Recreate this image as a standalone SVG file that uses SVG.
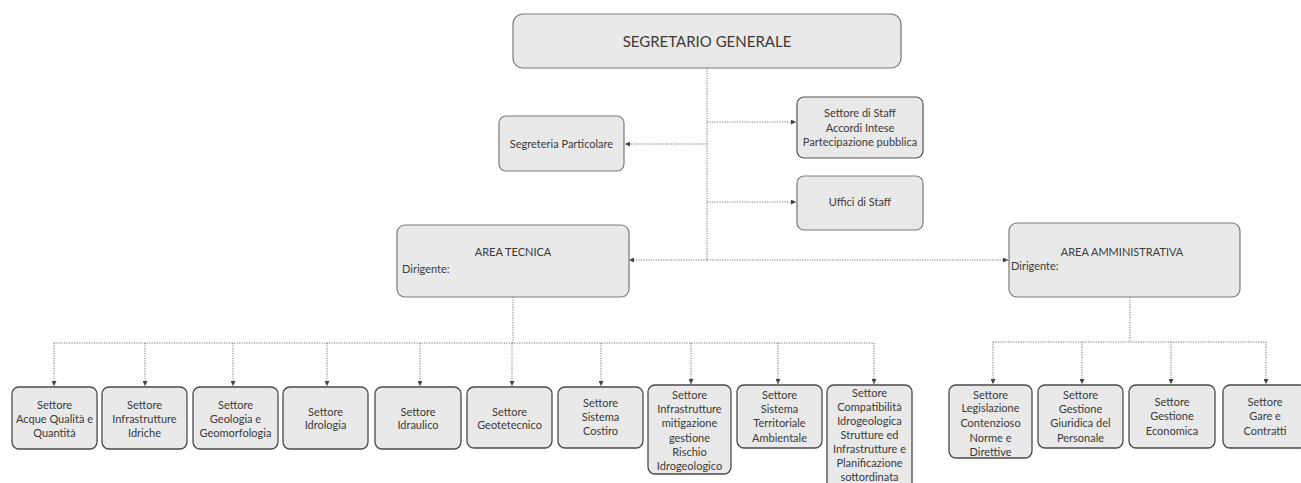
<svg xmlns="http://www.w3.org/2000/svg" width="1301" height="483" viewBox="0 0 1301 483">
<style>
text{font-family:Lato,"Liberation Sans",sans-serif;fill:#3a3a3a;font-size:11px}
.c{text-anchor:middle}
.box{fill:#e9e9e9;stroke:#7a7a7a;stroke-width:1.2}
.sb{fill:#e9e9e9;stroke:#4a4a4a;stroke-width:1.3}
.ln{fill:none;stroke:#777;stroke-width:1;stroke-dasharray:1.2 1.3}
</style>
<defs>
<marker id="ah" viewBox="0 0 6 6" refX="6" refY="3" markerWidth="5" markerHeight="5" orient="auto" markerUnits="userSpaceOnUse">
<path d="M0,0 L6,3 L0,6 Z" fill="#444"/>
</marker>
</defs>
<rect width="1301" height="483" fill="#fff"/>

<g id="connectors">
<path class="ln" d="M707,68 V260"/>
<path class="ln" d="M707,260 H629" marker-end="url(#ah)"/>
<path class="ln" d="M707,260 H1008" marker-end="url(#ah)"/>
<path class="ln" d="M707,122 H796" marker-end="url(#ah)"/>
<path class="ln" d="M707,202 H796" marker-end="url(#ah)"/>
<path class="ln" d="M707,144 H625" marker-end="url(#ah)"/>
<path class="ln" d="M513,297 V343 M54,343 H874"/>
<path class="ln" d="M54,343 V386" marker-end="url(#ah)"/>
<path class="ln" d="M145,343 V386" marker-end="url(#ah)"/>
<path class="ln" d="M233,343 V386" marker-end="url(#ah)"/>
<path class="ln" d="M327,343 V386" marker-end="url(#ah)"/>
<path class="ln" d="M420,343 V386" marker-end="url(#ah)"/>
<path class="ln" d="M512,343 V386" marker-end="url(#ah)"/>
<path class="ln" d="M601,343 V386" marker-end="url(#ah)"/>
<path class="ln" d="M691,343 V384" marker-end="url(#ah)"/>
<path class="ln" d="M778,343 V384" marker-end="url(#ah)"/>
<path class="ln" d="M874,343 V384" marker-end="url(#ah)"/>
<path class="ln" d="M1130,297 V342 M993,342 H1266"/>
<path class="ln" d="M993,342 V384" marker-end="url(#ah)"/>
<path class="ln" d="M1082,342 V384" marker-end="url(#ah)"/>
<path class="ln" d="M1171,342 V384" marker-end="url(#ah)"/>
<path class="ln" d="M1266,342 V384" marker-end="url(#ah)"/>
</g>

<g id="segretario">
<rect class="box" x="513" y="14" width="388" height="54" rx="10"/>
<text class="c" x="707" y="47" style="font-size:15px">SEGRETARIO GENERALE</text>
</g>
<g id="segreteria">
<rect class="box" x="499" y="116" width="125" height="55" rx="7"/>
<text class="c" x="561.5" y="148">Segreteria Particolare</text>
</g>
<g id="settore-staff">
<rect class="box" x="797" y="97" width="126" height="61" rx="7" style="stroke:#555"/>
<text class="c" x="860" y="117">Settore di Staff</text>
<text class="c" x="860" y="132">Accordi Intese</text>
<text class="c" x="860" y="146">Partecipazione pubblica</text>
</g>
<g id="uffici-staff">
<rect class="box" x="797" y="176" width="126" height="54" rx="7"/>
<text class="c" x="860" y="206">Uffici di Staff</text>
</g>
<g id="area-tecnica">
<rect class="box" x="397" y="225" width="232" height="72" rx="8"/>
<text class="c" x="513" y="256">AREA TECNICA</text>
<text x="402" y="273">Dirigente:</text>
</g>
<g id="area-amministrativa">
<rect class="box" x="1009" y="223" width="231" height="74" rx="8"/>
<text class="c" x="1122" y="256">AREA AMMINISTRATIVA</text>
<text x="1011" y="270">Dirigente:</text>
</g>

<g id="s1">
<rect class="sb" x="12" y="387" width="85" height="62" rx="7"/>
<text class="c" x="54.5" y="409">Settore</text>
<text class="c" x="54.5" y="423">Acque Qualità e</text>
<text class="c" x="54.5" y="437">Quantità</text>
</g>
<g id="s2">
<rect class="sb" x="102" y="387" width="85" height="62" rx="7"/>
<text class="c" x="144.5" y="409">Settore</text>
<text class="c" x="144.5" y="423">Infrastrutture</text>
<text class="c" x="144.5" y="437">Idriche</text>
</g>
<g id="s3">
<rect class="sb" x="193" y="387" width="85" height="62" rx="7"/>
<text class="c" x="235.5" y="409">Settore</text>
<text class="c" x="235.5" y="423">Geologia e</text>
<text class="c" x="235.5" y="437">Geomorfologia</text>
</g>
<g id="s4">
<rect class="sb" x="283" y="387" width="85" height="62" rx="7"/>
<text class="c" x="325.5" y="416">Settore</text>
<text class="c" x="325.5" y="429">Idrologia</text>
</g>
<g id="s5">
<rect class="sb" x="375" y="387" width="86" height="62" rx="7"/>
<text class="c" x="418" y="416">Settore</text>
<text class="c" x="418" y="429">Idraulico</text>
</g>
<g id="s6">
<rect class="sb" x="467" y="387" width="85" height="61" rx="7"/>
<text class="c" x="509.5" y="416">Settore</text>
<text class="c" x="509.5" y="429">Geotetecnico</text>
</g>
<g id="s7">
<rect class="sb" x="558" y="387" width="85" height="61" rx="7"/>
<text class="c" x="600.5" y="407">Settore</text>
<text class="c" x="600.5" y="421">Sistema</text>
<text class="c" x="600.5" y="435">Costiro</text>
</g>
<g id="s8">
<rect class="sb" x="648" y="385" width="83" height="89" rx="7"/>
<text class="c" x="689.5" y="399">Settore</text>
<text class="c" x="689.5" y="413">Infrastrutture</text>
<text class="c" x="689.5" y="427">mitigazione</text>
<text class="c" x="689.5" y="442">gestione</text>
<text class="c" x="689.5" y="456">Rischio</text>
<text class="c" x="689.5" y="470">Idrogeologico</text>
</g>
<g id="s9">
<rect class="sb" x="737" y="385" width="85" height="63" rx="7"/>
<text class="c" x="779.5" y="399">Settore</text>
<text class="c" x="779.5" y="413">Sistema</text>
<text class="c" x="779.5" y="427">Territoriale</text>
<text class="c" x="779.5" y="442">Ambientale</text>
</g>
<g id="s10">
<rect class="sb" x="827" y="385" width="85" height="105" rx="7"/>
<text class="c" x="869.5" y="397">Settore</text>
<text class="c" x="869.5" y="411">Compatibilità</text>
<text class="c" x="869.5" y="425">Idrogeologica</text>
<text class="c" x="869.5" y="439">Strutture ed</text>
<text class="c" x="869.5" y="453">Infrastrutture e</text>
<text class="c" x="869.5" y="467">Planificazione</text>
<text class="c" x="869.5" y="481">sottordinata</text>
</g>
<g id="s11">
<rect class="sb" x="949" y="385" width="83" height="73" rx="7"/>
<text class="c" x="990.5" y="399">Settore</text>
<text class="c" x="990.5" y="412">Legislazione</text>
<text class="c" x="990.5" y="427">Contenzioso</text>
<text class="c" x="990.5" y="442">Norme e</text>
<text class="c" x="990.5" y="456">Direttive</text>
</g>
<g id="s12">
<rect class="sb" x="1038" y="385" width="85" height="63" rx="7"/>
<text class="c" x="1080.5" y="399">Settore</text>
<text class="c" x="1080.5" y="413">Gestione</text>
<text class="c" x="1080.5" y="427">Giuridica del</text>
<text class="c" x="1080.5" y="442">Personale</text>
</g>
<g id="s13">
<rect class="sb" x="1129" y="385" width="86" height="63" rx="7"/>
<text class="c" x="1172" y="406">Settore</text>
<text class="c" x="1172" y="420">Gestione</text>
<text class="c" x="1172" y="435">Economica</text>
</g>
<g id="s14">
<rect class="sb" x="1223" y="385" width="84" height="63" rx="7"/>
<text class="c" x="1265" y="406">Settore</text>
<text class="c" x="1265" y="420">Gare e</text>
<text class="c" x="1265" y="435">Contratti</text>
</g>
</svg>
